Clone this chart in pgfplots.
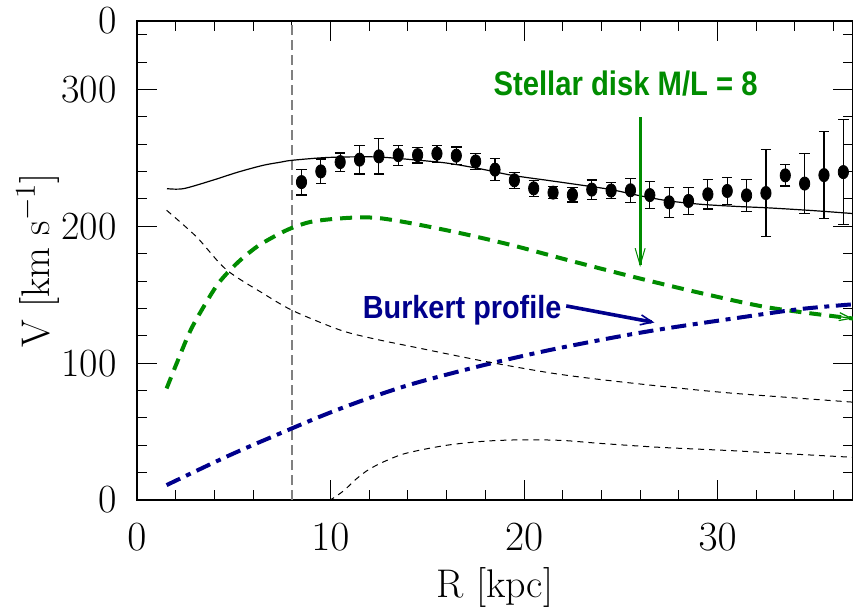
\documentclass[border=0pt]{standalone}
\usepackage{fontspec}
\usepackage{pgfplots}
\pgfplotsset{compat=1.18}
\usetikzlibrary{arrows.meta}
\newfontfamily\hv{Liberation Sans}
\definecolor{mygreen}{RGB}{0,140,0}
\definecolor{mynavy}{RGB}{0,0,140}
\definecolor{mygray}{RGB}{128,128,128}
\begin{document}
\begin{tikzpicture}
\begin{axis}[
  name=ax,
  scale only axis,
  width=358pt, height=239.5pt,
  xmin=0, xmax=37, ymin=0, ymax=350,
  xtick={0,10,20,30},
  minor xtick={2,4,...,36},
  ytick={0,100,200,300,350},
  yticklabels={0,100,200,300,0},
  minor ytick={20,40,...,340},
  tick align=inside,
  major tick length=10pt,
  minor tick length=5pt,
  xtick pos=both, ytick pos=both,
  axis line style={line width=0.7pt},
  every tick/.style={black, line width=0.5pt},
  ticklabel style={font=\fontsize{20}{24}\selectfont, inner sep=0pt},
  xticklabel style={yshift=-11.5pt},
  yticklabel style={xshift=-10pt},
  clip=true,
]
% vertical reference line
\addplot[mygray, line width=0.75pt, dash pattern=on 5pt off 2.5pt] coordinates {(8,0) (8,350)};

% total model (solid)
\addplot[black, line width=0.6pt, smooth] coordinates {
(1.55,227.5) (2.4,227.5) (3.9,233.6) (5.2,239.5) (6.5,244.5) (7.4,246.8) (8.0,248.2)
(9.6,250.1) (11,250.7) (12.5,250.6) (14.2,248.7) (16.0,246.2) (17.7,242.1) (19.4,237.2)
(21.2,233.6) (22.9,230.2) (24.5,226.8) (26,222.3) (27.5,218.5) (29.2,216) (31,214.5)
(32.7,213.4) (35,211.4) (37,209.3)};

% stellar disk (green dashed)
\addplot[mygreen, line width=2pt, dash pattern=on 6pt off 4pt, smooth] coordinates {
(1.53,81.5) (2.65,120.4) (3.34,138.7) (4.2,158.2) (5.15,172.8) (6.18,184.9) (7.2,193.4)
(8.0,198.8) (8.93,203.1) (9.96,205.1) (11.3,206.4) (12.5,206) (14.25,202) (16.8,194.7)
(19.4,186.1) (22.35,175) (25.8,162.5) (29.2,151) (32.7,140.5) (37,132.6)};

% Burkert profile (navy dash-dot)
\addplot[mynavy, line width=2pt, dash pattern=on 7.5pt off 3.3pt on 2.5pt off 3.3pt, smooth] coordinates {
(1.53,10.9) (4.8,32.8) (8.0,52.3) (10,64) (12.1,75) (14.4,85.5) (17.9,98.5) (21.3,109.5)
(24.8,119.2) (27.4,125.5) (30.8,132.6) (34.2,139.4) (37,143)};

% thin dashed upper component
\addplot[black, line width=0.5pt, dash pattern=on 3pt off 2.5pt, smooth] coordinates {
(1.53,211.7) (3.08,192.2) (4.6,168.5) (6.52,150.9) (8.0,138.7) (9.96,127) (11,122)
(12.5,117) (14.4,111.5) (17.9,101.5) (21.3,93) (23.9,88.1) (27.5,82.5) (30.8,78) (37,71.5)};

% thin dashed lower component
\addplot[black, line width=0.5pt, dash pattern=on 3pt off 2.5pt, smooth] coordinates {
(9.9,0) (10.1,1) (10.7,7) (11.3,15) (12,22.5) (13,29.5) (14,34.5) (16,40) (18,43) (20,44)
(22,43.5) (23.9,41.4) (27,38.5) (30.8,36) (34,33.5) (37,31.2)};

% observed rotation curve
\addplot[only marks, mark=*, mark size=3.3pt, mark options={xscale=0.78, fill=black, draw=black},
  error bars/.cd, y dir=both, y explicit,
  error bar style={line width=0.6pt, black},
  error mark options={rotate=90, line width=0.6pt, mark size=2.6pt, black}]
  table[x=x, y=y, y error=e] {
x y e
8.5 232.3 9.4
9.5 240.1 9.1
10.5 246.9 6.7
11.5 248.7 10.5
12.5 251.1 12.9
13.5 252.0 7.3
14.5 252.0 5.8
15.5 253.1 6.2
16.5 251.6 6.4
17.5 247.4 5.7
18.5 241.4 8.2
19.5 233.6 5.7
20.5 227.7 5.8
21.5 224.6 4.4
22.5 223.0 5.2
23.5 226.8 7.0
24.5 226.1 6.0
25.5 226.3 8.7
26.5 222.8 9.7
27.5 217.5 11.0
28.5 218.5 9.9
29.5 223.4 10.7
30.5 225.8 10.0
31.5 222.6 11.6
32.5 224.3 32.0
33.5 237.2 7.8
34.5 231.2 22.0
35.5 237.4 31.9
36.5 239.6 38.3
};

% annotations
\node[text=mygreen, font=\hv\bfseries\fontsize{17}{20}\selectfont] at (axis cs:25.25,304.4)
  {\scalebox{0.86}[1]{Stellar disk M/L = 8}};
\draw[mygreen, line width=1.5pt, -{Straight Barb[length=8.5pt, width=5pt, line width=0.5pt]}]
  (axis cs:26,279.8) -- (axis cs:26,170.3);
\draw[mygreen, line width=0.6pt, -{Straight Barb[length=6pt, width=4pt]}]
  (axis cs:36.3,134) -- (axis cs:37,132.6);
\node[text=mynavy, font=\hv\bfseries\fontsize{16}{19}\selectfont] at (axis cs:16.8,138.7)
  {\scalebox{0.9}[1]{Burkert profile}};
\draw[mynavy, line width=1.8pt, -{Straight Barb[length=6pt, width=5pt, line width=0.8pt]}]
  (axis cs:22.18,141.8) -- (axis cs:26.74,129.7);
\end{axis}
\node[rotate=90, font=\fontsize{20}{24}\selectfont] at ([xshift=-49.5pt]ax.west) {V [km s$^{-1}$]};
\node[font=\fontsize{20}{24}\selectfont] at ([yshift=-43.5pt]ax.south) {R [kpc]};
\pgfresetboundingbox
\path[use as bounding box] ([shift={(-68.5pt,-55pt)}]ax.south west) rectangle ([shift={(0pt,10.5pt)}]ax.north east);
\end{tikzpicture}
\end{document}
